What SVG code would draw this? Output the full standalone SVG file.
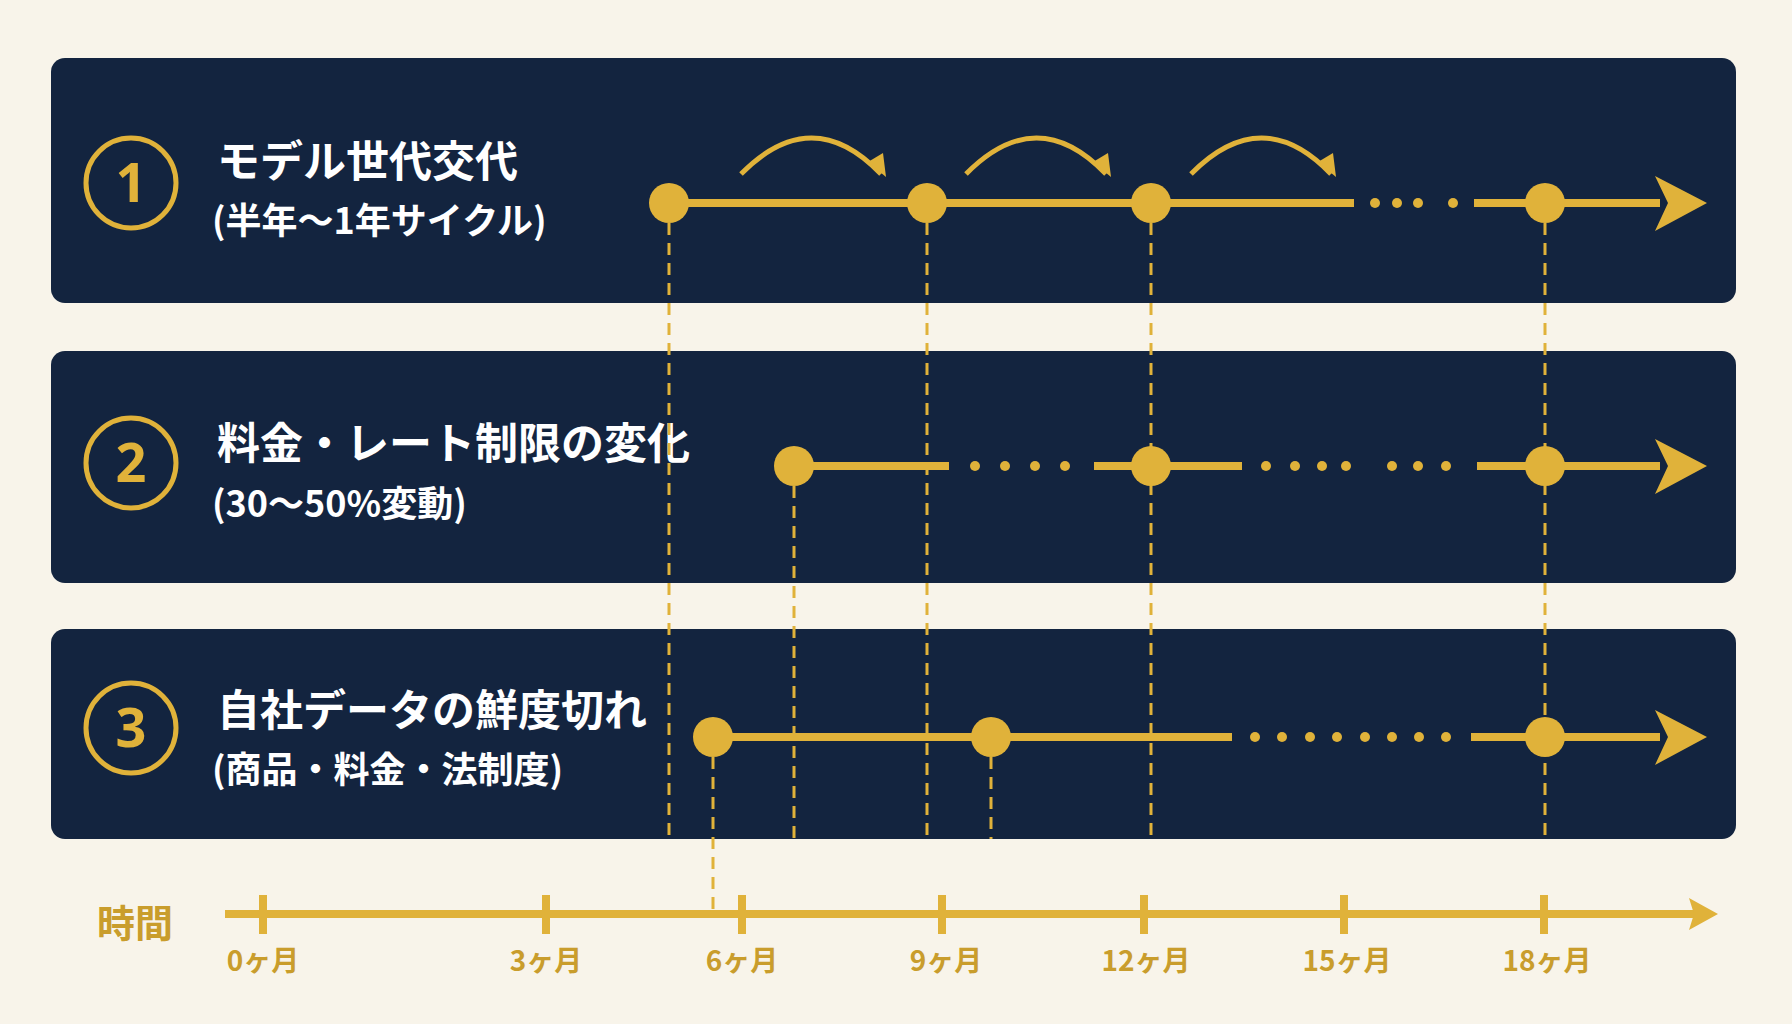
<svg xmlns="http://www.w3.org/2000/svg" width="1792" height="1024" viewBox="0 0 1792 1024">
<defs>
<style>
.panel{fill:#13243f}
.num{fill:none;stroke:#e0b23a;stroke-width:5}
.numt{fill:#e0b23a;font-family:"Noto Sans","Noto Sans CJK JP",sans-serif;font-weight:700;font-size:54px;text-anchor:middle}
.t1{fill:#fff;font-family:"Noto Sans CJK JP",sans-serif;font-weight:700;font-size:43px}
.t2{fill:#fff;font-family:"Noto Sans CJK JP",sans-serif;font-weight:700;font-size:36px}
.ln{stroke:#e0b23a;stroke-width:8;fill:none}
.dot{fill:#e0b23a}
.dash{stroke:#e0b23a;stroke-width:3;stroke-dasharray:12 8;fill:none}
.arc{stroke:#e0b23a;stroke-width:5;fill:none}
.ax{fill:#c99d2c;font-family:"Noto Sans CJK JP",sans-serif;font-weight:700;font-size:28px;text-anchor:middle}
</style>
<marker id="ah" markerWidth="10" markerHeight="10" refX="8" refY="5" orient="auto" markerUnits="userSpaceOnUse"><path d="M0,0 L10,5 L0,10" fill="none" stroke="#e0b23a" stroke-width="0"/></marker>
</defs>
<rect width="1792" height="1024" fill="#f8f4ea"/>
<g id="panel1"><rect class="panel" x="51" y="58" width="1685" height="245" rx="14"/>
<circle class="num" cx="131" cy="183" r="45"/><text class="numt" x="131" y="202">1</text>
<text class="t1" x="217" y="177">モデル世代交代</text><text class="t2" x="212" y="234">(半年〜1年サイクル)</text></g>
<g id="panel2"><rect class="panel" x="51" y="351" width="1685" height="232" rx="14"/>
<circle class="num" cx="131" cy="463" r="45"/><text class="numt" x="131" y="482">2</text>
<text class="t1" x="217" y="459">料金・レート制限の変化</text><text class="t2" x="212" y="517">(30〜50%変動)</text></g>
<g id="panel3"><rect class="panel" x="51" y="629" width="1685" height="210" rx="14"/>
<circle class="num" cx="131" cy="728" r="45"/><text class="numt" x="131" y="747">3</text>
<text class="t1" x="217" y="726">自社データの鮮度切れ</text><text class="t2" x="212" y="783">(商品・料金・法制度)</text></g>
<g id="connectors">
<path class="dash" d="M669 203V839M927 203V839M1151 203V839M1545 203V839M794 466V839M713 737V914M991 737V839"/>
<path class="ln" d="M669 203H1354M1474 203H1660M794 466H949M1094 466H1242M1477 466H1660M713 737H1232M1471 737H1660"/>
<g class="dot">
<circle cx="1375" cy="203" r="5"/><circle cx="1397" cy="203" r="5"/><circle cx="1418" cy="203" r="5"/><circle cx="1453" cy="203" r="5"/>
<circle cx="975" cy="466" r="5"/><circle cx="1005" cy="466" r="5"/><circle cx="1035" cy="466" r="5"/><circle cx="1065" cy="466" r="5"/>
<circle cx="1266" cy="466" r="5"/><circle cx="1295" cy="466" r="5"/><circle cx="1322" cy="466" r="5"/><circle cx="1346" cy="466" r="5"/><circle cx="1392" cy="466" r="5"/><circle cx="1418" cy="466" r="5"/><circle cx="1446" cy="466" r="5"/>
<circle cx="1255" cy="737" r="5"/><circle cx="1282" cy="737" r="5"/><circle cx="1310" cy="737" r="5"/><circle cx="1337" cy="737" r="5"/><circle cx="1365" cy="737" r="5"/><circle cx="1392" cy="737" r="5"/><circle cx="1419" cy="737" r="5"/><circle cx="1446" cy="737" r="5"/>
<circle cx="669" cy="203" r="20"/><circle cx="927" cy="203" r="20"/><circle cx="1151" cy="203" r="20"/><circle cx="1545" cy="203" r="20"/>
<circle cx="794" cy="466" r="20"/><circle cx="1151" cy="466" r="20"/><circle cx="1545" cy="466" r="20"/>
<circle cx="713" cy="737" r="20"/><circle cx="991" cy="737" r="20"/><circle cx="1545" cy="737" r="20"/>
<path d="M1655 176L1707 203L1655 231L1668 203Z"/><path d="M1655 439L1707 466L1655 494L1668 466Z"/><path d="M1655 710L1707 737L1655 765L1668 737Z"/>
</g>
<path class="arc" d="M741 174Q812 102 881 174M966 174Q1037 102 1106 174M1191 174Q1262 102 1331 174"/>
<g class="dot"><path d="M868 162L886 177L883 153Z"/><path d="M1093 162L1111 177L1108 153Z"/><path d="M1318 162L1336 177L1333 153Z"/></g>
<path class="ln" d="M225 914H1700" stroke-width="7"/>
<path class="dot" d="M1689 898L1718 914L1689 930L1694 914Z"/>
<path class="ln" stroke-width="4" d="M263 895V934M546 895V934M742 895V934M942 895V934M1144 895V934M1344 895V934M1544 895V934"/>
</g>
<text x="97" y="937" fill="#c99d2c" font-family="Noto Sans CJK JP,sans-serif" font-weight="700" font-size="38">時間</text>
<text class="ax" x="263" y="971">0ヶ月</text><text class="ax" x="546" y="971">3ヶ月</text><text class="ax" x="742" y="971">6ヶ月</text><text class="ax" x="946" y="971">9ヶ月</text><text class="ax" x="1146" y="971">12ヶ月</text><text class="ax" x="1347" y="971">15ヶ月</text><text class="ax" x="1547" y="971">18ヶ月</text>
</svg>
